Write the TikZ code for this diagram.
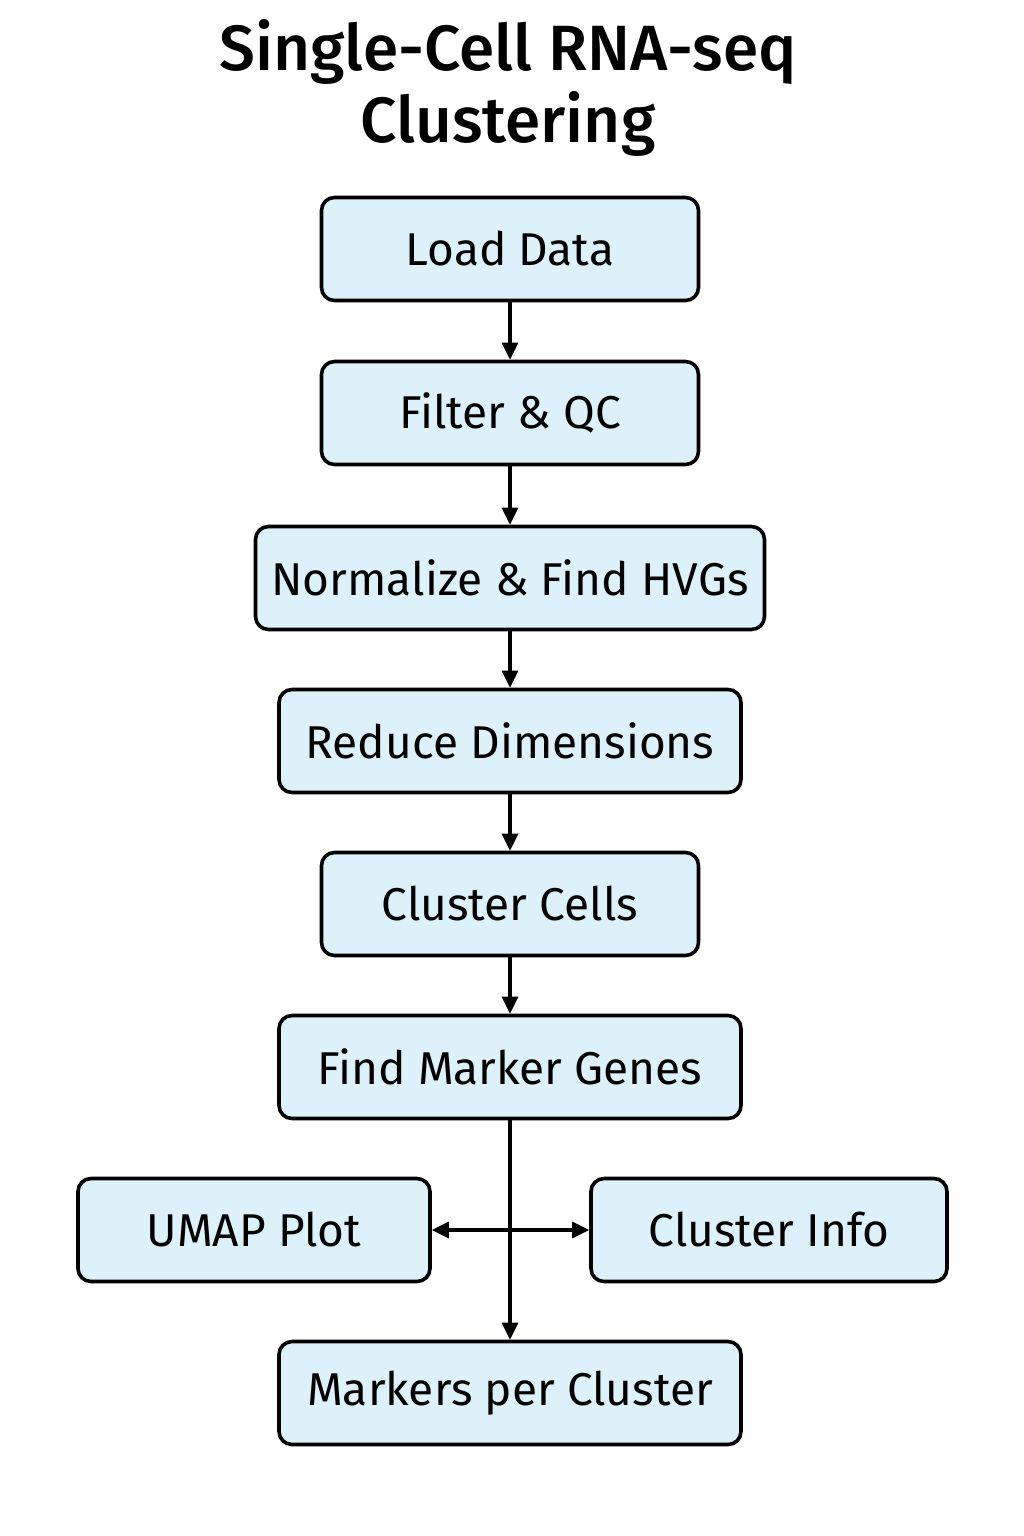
\documentclass[tikz,border=0pt]{standalone}
\usepackage{fontspec}
\setmainfont{Fira Sans}
\newfontfamily\titlefont{Fira Sans Medium}
\usetikzlibrary{arrows.meta}
\definecolor{boxfill}{HTML}{DDF1FA}
\tikzset{
  stepbox/.style={draw=black, line width=3.6pt, rounded corners=13pt, fill=boxfill,
    minimum height=103pt, inner sep=0pt, font=\fontsize{46}{52}\selectfont},
  conn/.style={line width=3.2pt, -{Triangle[length=17pt,width=16pt]}},
  dconn/.style={line width=3.2pt, {Triangle[length=17pt,width=16pt]}-{Triangle[length=17pt,width=16pt]}}
}
\begin{document}
\begin{tikzpicture}[x=1pt,y=-1pt]
\useasboundingbox (0,0) rectangle (1024,1536);
\fill[white] (0,0) rectangle (1024,1536);
\node[font=\fontsize{64}{72}\titlefont, align=center, anchor=center] (title) at (508,88) {Single-Cell RNA-seq\\Clustering};
\node[stepbox, minimum width=377pt] (load) at (510,249) {Load Data};
\node[stepbox, minimum width=377pt] (filter) at (510,413) {Filter \& QC};
\node[stepbox, minimum width=509pt] (norm) at (510,578) {Normalize \& Find HVGs};
\node[stepbox, minimum width=462pt] (reduce) at (510,741) {Reduce Dimensions};
\node[stepbox, minimum width=377pt] (cluster) at (510,904) {Cluster Cells};
\node[stepbox, minimum width=462pt] (marker) at (510,1067) {Find Marker Genes};
\node[stepbox, minimum width=352pt] (umap) at (254,1230) {UMAP Plot};
\node[stepbox, minimum width=356pt] (info) at (769,1230) {Cluster Info};
\node[stepbox, minimum width=462pt] (mpc) at (510,1393) {Markers per Cluster};
\draw[conn] (load) -- (filter);
\draw[conn] (filter) -- (norm);
\draw[conn] (norm) -- (reduce);
\draw[conn] (reduce) -- (cluster);
\draw[conn] (cluster) -- (marker);
\draw[conn] (marker) -- (mpc);
\draw[dconn] (umap) -- (info);
\end{tikzpicture}
\end{document}
